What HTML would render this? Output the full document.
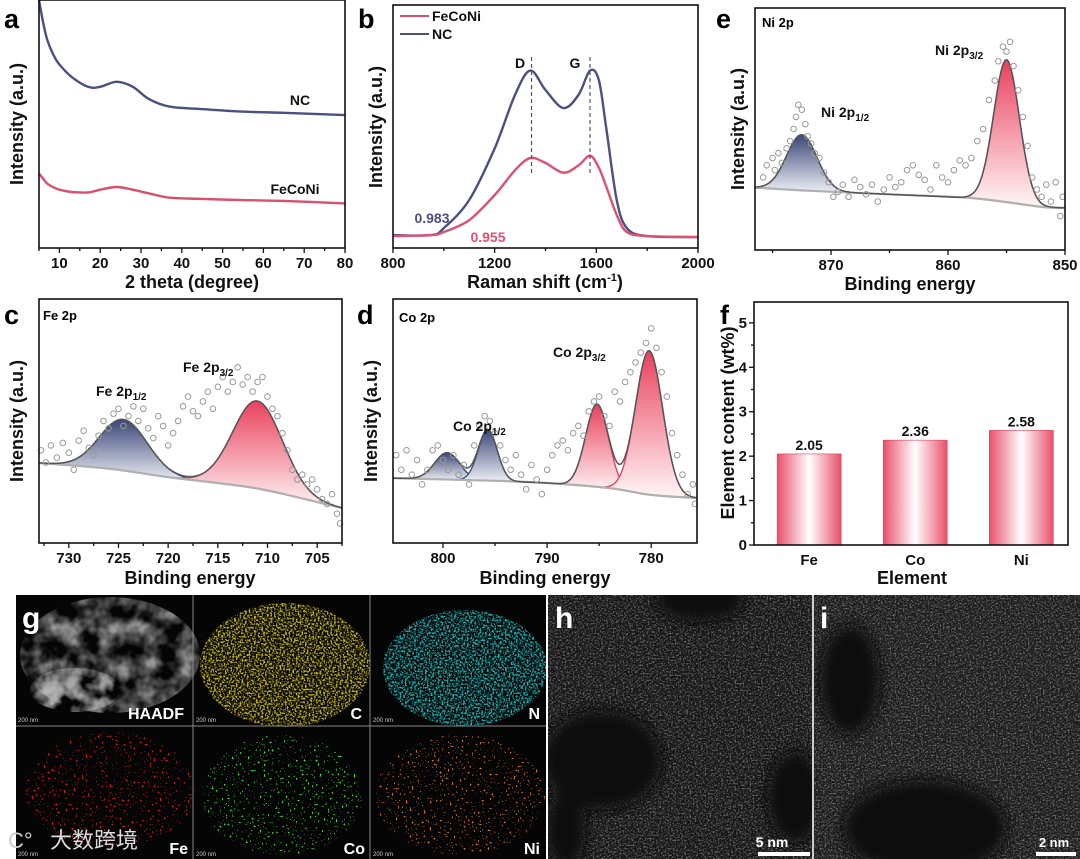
<!DOCTYPE html>
<html><head><meta charset="utf-8">
<style>
html,body{margin:0;padding:0;background:#fff;}
svg{display:block;font-family:"Liberation Sans",Arial,sans-serif;}
.tk{font-size:15px;font-weight:bold;fill:#111;}
.tt{font-size:18px;font-weight:bold;fill:#111;}
.pl{font-size:27px;font-weight:bold;fill:#000;}
.an{font-size:14px;font-weight:bold;fill:#111;}
</style></head>
<body>
<svg id="fig" width="1080" height="859" viewBox="0 0 1080 859" xmlns="http://www.w3.org/2000/svg">
<defs>
<linearGradient id="gBlue" x1="0" y1="0" x2="0" y2="1"><stop offset="0" stop-color="#3a4677"/><stop offset="1" stop-color="#eef0f5"/></linearGradient>
<linearGradient id="gPink" x1="0" y1="0" x2="0" y2="1"><stop offset="0" stop-color="#e9415c"/><stop offset="1" stop-color="#fff6f7"/></linearGradient>
<linearGradient id="gBar" x1="0" y1="0" x2="1" y2="0"><stop offset="0" stop-color="#e9506c"/><stop offset="0.5" stop-color="#ffffff"/><stop offset="1" stop-color="#e9506c"/></linearGradient>
<filter id="speck" x="0" y="0" width="100%" height="100%"><feTurbulence type="fractalNoise" baseFrequency="0.55" numOctaves="2" seed="3" result="n"/><feColorMatrix in="n" type="matrix" values="0 0 0 0 0 0 0 0 0 0 0 0 0 0 0 5 0 0 0 -2.3" result="m"/><feComposite in="SourceGraphic" in2="m" operator="in"/></filter>
<filter id="speckS" x="0" y="0" width="100%" height="100%"><feTurbulence type="fractalNoise" baseFrequency="0.5" numOctaves="1" seed="7" result="n"/><feColorMatrix in="n" type="matrix" values="0 0 0 0 0 0 0 0 0 0 0 0 0 0 0 16 0 0 0 -10.4" result="m"/><feComposite in="SourceGraphic" in2="m" operator="in"/></filter>
<filter id="tem" x="0" y="0" width="100%" height="100%"><feTurbulence type="fractalNoise" baseFrequency="0.6" numOctaves="3" seed="11"/><feColorMatrix type="matrix" values="0 0 0 0 0.55 0 0 0 0 0.55 0 0 0 0 0.55 1.6 0 0 0 -0.72"/></filter>
<filter id="haadf" x="0" y="0" width="100%" height="100%"><feTurbulence type="fractalNoise" baseFrequency="0.05" numOctaves="3" seed="5" result="n"/><feColorMatrix in="n" type="matrix" values="0 0 0 0 0 0 0 0 0 0 0 0 0 0 0 2.2 0 0 0 -0.75" result="m"/><feComposite in="SourceGraphic" in2="m" operator="in"/></filter>
<filter id="blur8" x="-50%" y="-50%" width="200%" height="200%"><feGaussianBlur stdDeviation="7"/></filter>
<clipPath id="clipH"><rect x="548" y="595" width="264" height="264"/></clipPath>
<clipPath id="clipI"><rect x="814" y="595" width="266" height="264"/></clipPath>
<clipPath id="clipG"><rect x="16" y="595" width="530" height="264"/></clipPath>
</defs>
<g id="plots"></g>

<text class="pl" x="4" y="28">a</text>
<text class="pl" x="358" y="28">b</text>
<text class="pl" x="716" y="28">e</text>
<text class="pl" x="4" y="324">c</text>
<text class="pl" x="357" y="324">d</text>
<text class="pl" x="720" y="324">f</text>

<text class="tt" x="192" y="288" text-anchor="middle">2 theta (degree)</text>
<text class="tt" x="545" y="288" text-anchor="middle">Raman shift (cm<tspan font-size="11" dy="-7">-1</tspan><tspan dy="7">)</tspan></text>
<text class="tt" x="910" y="290" text-anchor="middle">Binding energy</text>
<text class="tt" x="190" y="584" text-anchor="middle">Binding energy</text>
<text class="tt" x="545" y="584" text-anchor="middle">Binding energy</text>
<text class="tt" x="912" y="584" text-anchor="middle">Element</text>

<text class="tt" transform="translate(23,124) rotate(-90)" text-anchor="middle">Intensity (a.u.)</text>
<text class="tt" transform="translate(382,127) rotate(-90)" text-anchor="middle">Intensity (a.u.)</text>
<text class="tt" transform="translate(744,129) rotate(-90)" text-anchor="middle">Intensity (a.u.)</text>
<text class="tt" transform="translate(23,421) rotate(-90)" text-anchor="middle">Intensity (a.u.)</text>
<text class="tt" transform="translate(377,421) rotate(-90)" text-anchor="middle">Intensity (a.u.)</text>
<text class="tt" transform="translate(734,423) rotate(-90)" text-anchor="middle">Element content (wt%)</text>

<text class="an" x="300" y="105" text-anchor="middle">NC</text>
<text class="an" x="295" y="194" text-anchor="middle">FeCoNi</text>
<line x1="400" y1="16" x2="429" y2="16" stroke="#d94f6e" stroke-width="2"/>
<text class="an" x="432" y="21">FeCoNi</text>
<line x1="400" y1="34" x2="429" y2="34" stroke="#4a5080" stroke-width="2"/>
<text class="an" x="432" y="39">NC</text>
<text class="an" x="520" y="68" text-anchor="middle">D</text>
<text class="an" x="575" y="68" text-anchor="middle">G</text>
<text class="an" x="432" y="223" text-anchor="middle" style="fill:#4a5080">0.983</text>
<text class="an" x="488" y="242" text-anchor="middle" style="fill:#e0506f">0.955</text>

<text x="762" y="27" font-size="13" font-weight="bold">Ni 2p</text>
<text class="an" x="935" y="55">Ni 2p<tspan font-size="10" dy="4">3/2</tspan></text>
<text class="an" x="821" y="117">Ni 2p<tspan font-size="10" dy="4">1/2</tspan></text>
<text x="43" y="320" font-size="13" font-weight="bold">Fe 2p</text>
<text class="an" x="96" y="396">Fe 2p<tspan font-size="10" dy="4">1/2</tspan></text>
<text class="an" x="183" y="372">Fe 2p<tspan font-size="10" dy="4">3/2</tspan></text>
<text x="399" y="322" font-size="13" font-weight="bold">Co 2p</text>
<text class="an" x="453" y="431">Co 2p<tspan font-size="10" dy="4">1/2</tspan></text>
<text class="an" x="553" y="357">Co 2p<tspan font-size="10" dy="4">3/2</tspan></text>

<g id="micro">
<rect x="16" y="595" width="530" height="264" fill="#050505"/>
<g clip-path="url(#clipG)">
<g>
<ellipse cx="110" cy="655" rx="90" ry="58" fill="#9a9a9a" filter="url(#haadf)"/>
<ellipse cx="75" cy="690" rx="45" ry="22" fill="#b5b5b5" filter="url(#haadf)"/>
</g>
<g>
<ellipse cx="285" cy="665" rx="85" ry="62" fill="#c9b81a" filter="url(#speck)"/>
</g>
<g>
<ellipse cx="465" cy="668" rx="82" ry="58" fill="#1fb5b8" filter="url(#speck)"/>
</g>
<g>
<ellipse cx="110" cy="790" rx="85" ry="58" fill="#d82020" filter="url(#speckS)"/>
</g>
<g>
<ellipse cx="282" cy="795" rx="80" ry="60" fill="#40e040" filter="url(#speckS)"/>
</g>
<g>
<ellipse cx="460" cy="795" rx="85" ry="60" fill="#d8782a" filter="url(#speckS)"/>
</g>
</g>
<line x1="193" y1="595" x2="193" y2="859" stroke="#888" stroke-width="1"/>
<line x1="370" y1="595" x2="370" y2="859" stroke="#888" stroke-width="1"/>
<line x1="16" y1="726" x2="546" y2="726" stroke="#888" stroke-width="1"/>
<text x="22" y="628" font-size="30" font-weight="bold" fill="#fff">g</text>
<text x="184" y="719" font-size="16" font-weight="bold" fill="#fff" text-anchor="end">HAADF</text>
<text x="362" y="719" font-size="16" font-weight="bold" fill="#fff" text-anchor="end">C</text>
<text x="540" y="719" font-size="16" font-weight="bold" fill="#fff" text-anchor="end">N</text>
<text x="188" y="854" font-size="16" font-weight="bold" fill="#fff" text-anchor="end">Fe</text>
<text x="365" y="854" font-size="16" font-weight="bold" fill="#fff" text-anchor="end">Co</text>
<text x="540" y="854" font-size="16" font-weight="bold" fill="#fff" text-anchor="end">Ni</text>
<text x="18" y="722" font-size="6" fill="#ccc">200 nm</text><text x="196" y="722" font-size="6" fill="#ccc">200 nm</text><text x="373" y="722" font-size="6" fill="#ccc">200 nm</text>
<text x="18" y="856" font-size="6" fill="#ccc">200 nm</text><text x="196" y="856" font-size="6" fill="#ccc">200 nm</text><text x="373" y="856" font-size="6" fill="#ccc">200 nm</text>
<text x="50" y="848" font-size="22" fill="#ddd" font-family="'Liberation Sans','Noto Sans CJK SC',sans-serif">大数跨境</text>
<text x="8" y="848" font-size="22" fill="#ccc">C°</text>
</g>
<g clip-path="url(#clipH)">
<rect x="548" y="595" width="264" height="264" fill="#141414"/>
<rect x="548" y="595" width="264" height="264" filter="url(#tem)"/>
<g filter="url(#blur8)" fill="#0a0a0a">
<ellipse cx="602" cy="760" rx="60" ry="50"/><ellipse cx="566" cy="830" rx="20" ry="40"/>
<ellipse cx="700" cy="600" rx="45" ry="22"/><ellipse cx="795" cy="797" rx="28" ry="46"/>
</g>
</g>
<text x="555" y="628" font-size="30" font-weight="bold" fill="#fff">h</text>
<text x="772" y="847" font-size="14" font-weight="bold" fill="#fff" text-anchor="middle">5 nm</text>
<rect x="758" y="852" width="52" height="4" fill="#fff"/>
<rect x="812" y="595" width="2" height="264" fill="#ccc"/>
<g clip-path="url(#clipI)">
<rect x="814" y="595" width="266" height="264" fill="#1a1a1a"/>
<rect x="814" y="595" width="266" height="264" filter="url(#tem)"/>
<g filter="url(#blur8)" fill="#111">
<ellipse cx="925" cy="828" rx="82" ry="48"/><ellipse cx="850" cy="680" rx="30" ry="55"/>
</g>
</g>
<text x="820" y="628" font-size="30" font-weight="bold" fill="#fff">i</text>
<text x="1054" y="847" font-size="13" font-weight="bold" fill="#fff" text-anchor="middle">2 nm</text>
<rect x="1036" y="852" width="40" height="4" fill="#fff"/>
</svg>

<script>
// ---------- data ----------
const xrdX = [5, 6, 7, 8.5, 10, 13, 17, 20, 24, 28, 32, 37, 45, 55, 65, 80];
const xrdNC = [100, 91, 84, 78, 74, 69, 65, 65, 67, 65, 60, 57, 56, 55, 54.5, 53.6];
const xrdFe = [30, 28, 26, 24.5, 23.5, 22.6, 22.4, 23.5, 24.6, 23.5, 22, 20.3, 19.8, 19.3, 19, 18];
const xrdTicks = [10, 20, 30, 40, 50, 60, 70, 80];
const ramX = [800, 950, 1000, 1100, 1200, 1280, 1340, 1400, 1470, 1530, 1575, 1610, 1640, 1680, 1720, 1800, 2000];
const ramNC = [5.3, 5.3, 8.2, 19.8, 41, 63, 73, 65, 57.6, 63, 73, 69, 48.6, 19.8, 8.2, 4.9, 4.5];
const ramFe = [4.9, 5.3, 6.6, 11.5, 21.8, 32, 37, 35, 31, 34, 38, 33, 25, 13.6, 6.6, 4.9, 4.5];
const ramBands = [1345, 1575];
const ramTicks = [800, 1200, 1600, 2000];
const niBaseX = [876.5, 872, 865, 858, 852, 850];
const niBaseY = [25.8, 24.5, 23, 21.5, 17.8, 17.4];
const niPeakC = [872.5, 855];
const niPeakA = [23, 59];
const niPeakW = [1.3, 1.1];
const niPeakCol = ['blue', 'pink'];
const niPts = [[875.8,30],[875.5,35],[875,38],[874.8,33],[874.5,40],[874.2,36],[873.8,42],[873.5,45],[873.2,50],[873,55],[872.8,60],[872.5,58],[872.2,52],[872,47],[871.7,44],[871.4,40],[871,38],[870.6,32],[870.2,28],[869.8,22],[869.4,24],[869,27],[868.5,22],[868,29],[867.5,26],[867,23],[866.5,27],[866,20],[865.5,25],[865,30],[864.5,26],[864,28],[863.5,33],[863,35],[862.5,31],[862,29],[861.5,25],[861,35],[860.5,30],[860,28],[859.5,33],[859,37],[858.5,35],[858,38],[857.5,45],[857,50],[856.5,62],[856,70],[855.7,78],[855.3,84],[855,82],[854.7,86],[854.4,76],[854,66],[853.6,55],[853.2,43],[852.8,30],[852.4,25],[852,22],[851.6,27],[851.2,20],[850.8,28],[850.4,14],[850.2,22]];
const niTicks = [870, 860, 850];
const feBaseX = [733, 726, 720, 712, 708, 702.5];
const feBaseY = [32.8, 30.5, 27, 23, 19.7, 14.3];
const fePeakC = [724.5, 711];
const fePeakA = [21, 36];
const fePeakW = [2.4, 2.5];
const fePeakCol = ['blue', 'pink'];
const fePts = [[732.8,38],[732.3,33],[731.8,40],[731.2,35],[730.6,41],[730,37],[729.5,30],[729,42],[728.5,46],[728,39],[727.5,36],[727,44],[726.5,50],[726,47],[725.5,53],[725,55],[724.5,48],[724,52],[723.5,56],[723,50],[722.5,55],[722,47],[721.5,43],[721,52],[720.5,48],[720,40],[719.5,45],[719,50],[718.5,56],[718,60],[717.5,54],[717,52],[716.5,58],[716,62],[715.5,55],[715,64],[714.5,68],[714,62],[713.5,66],[713,72],[712.5,65],[712,68],[711.5,62],[711,66],[710.5,68],[710,60],[709.5,55],[709,52],[708.5,45],[708,38],[707.5,30],[707,26],[706.5,28],[706,24],[705.5,26],[705,22],[704.5,18],[704,16],[703.5,20],[703,12],[702.7,8]];
const feTicks = [730, 725, 720, 715, 710, 705];
const coBaseX = [804.8, 795, 790, 784, 780, 775.6];
const coBaseY = [26.6, 25.5, 24.6, 22.5, 19.7, 18.4];
const coPeakC = [799.6, 795.7, 785.2, 780.2];
const coPeakA = [11, 21, 34, 59];
const coPeakW = [1.2, 0.9, 1.1, 1.3];
const coPeakCol = ['blue', 'blue', 'pink', 'pink'];
const coPts = [[804.5,36],[804,30],[803.5,38],[803,28],[802.5,34],[802,24],[801.5,30],[801,38],[800.5,40],[800,34],[799.5,30],[799,36],[798.5,28],[798,32],[797.5,24],[797,40],[796.5,48],[796,52],[795.5,50],[795,45],[794.5,40],[794,34],[793.5,30],[793,36],[792.5,28],[792,22],[791.5,32],[791,26],[790.5,20],[790,30],[789.5,36],[789,40],[788.5,42],[788,38],[787.5,45],[787,48],[786.5,44],[786,54],[785.5,58],[785,60],[784.5,52],[784,48],[783.5,62],[783,58],[782.5,66],[782,70],[781.5,74],[781,78],[780.5,82],[780,88],[779.5,80],[779,70],[778.5,60],[778,45],[777.5,36],[777,28],[776.5,20],[776,24],[775.8,16]];
const coTicks = [800, 790, 780];
const elemCats = ['Fe', 'Co', 'Ni'];
const elemVals = [2.05, 2.36, 2.58];
const elemLabels = ['2.05', '2.36', '2.58'];
const elemTicks = [0, 1, 2, 3, 4, 5];

// ---------- helpers ----------
const NS = 'http://www.w3.org/2000/svg';
const root = document.getElementById('plots');
function mk(tag, attrs, parent) {
  const el = document.createElementNS(NS, tag);
  for (const k in attrs) el.setAttribute(k, attrs[k]);
  (parent || root).appendChild(el);
  return el;
}
function panel(cfg) {
  cfg.sx = v => cfg.l + (v - cfg.x0) / (cfg.x1 - cfg.x0) * (cfg.r - cfg.l);
  cfg.sy = v => cfg.b - (v - (cfg.y0 || 0)) / ((cfg.y1 || 100) - (cfg.y0 || 0)) * (cfg.b - cfg.t);
  return cfg;
}
function smoothPath(pts) {
  let d = 'M' + pts[0][0].toFixed(1) + ',' + pts[0][1].toFixed(1);
  for (let i = 0; i < pts.length - 1; i++) {
    const p0 = pts[Math.max(0, i - 1)], p1 = pts[i], p2 = pts[i + 1], p3 = pts[Math.min(pts.length - 1, i + 2)];
    const c1x = p1[0] + (p2[0] - p0[0]) / 6, c1y = p1[1] + (p2[1] - p0[1]) / 6;
    const c2x = p2[0] - (p3[0] - p1[0]) / 6, c2y = p2[1] - (p3[1] - p1[1]) / 6;
    d += 'C' + c1x.toFixed(1) + ',' + c1y.toFixed(1) + ' ' + c2x.toFixed(1) + ',' + c2y.toFixed(1) + ' ' + p2[0].toFixed(1) + ',' + p2[1].toFixed(1);
  }
  return d;
}
function frame(P, name) {
  const el = mk('rect', {x: P.l, y: P.t, width: P.r - P.l, height: P.b - P.t, fill: 'none', stroke: '#111', 'stroke-width': 1.6});
  
  
}
function xTicks(P, ticks, minorStep, name) {
  const lo = Math.min(P.x0, P.x1), hi = Math.max(P.x0, P.x1);
  const start = Math.ceil(lo / minorStep) * minorStep;
  for (let v = start; v <= hi + 1e-9; v += minorStep) {
    const major = ticks.some(t => Math.abs(t - v) < 1e-6);
    mk('line', {x1: P.sx(v), x2: P.sx(v), y1: P.b, y2: P.b + (major ? 5 : 3), stroke: '#111', 'stroke-width': 1.3});
  }
  ticks.forEach(t => {
    const el = mk('text', {x: P.sx(t), y: P.b + 20, class: 'tk', 'text-anchor': 'middle'});
    el.textContent = t;
    
    
  });
}
function xyToPx(P, xs, ys) { return xs.map((x, i) => [P.sx(x), P.sy(ys[i])]); }
function lineSeries(P, xs, ys, color, name) {
  const el = mk('path', {d: smoothPath(xyToPx(P, xs, ys)), fill: 'none', stroke: color, 'stroke-width': 2.4, 'stroke-linejoin': 'round'});
  
  
}
function baselineAt(bx, by, x) {
  for (let i = 0; i < bx.length - 1; i++) {
    const a = bx[i], b = bx[i + 1];
    if ((x - a) * (x - b) <= 0) { const t = (x - a) / (b - a); return by[i] + t * (by[i + 1] - by[i]); }
  }
  return by[by.length - 1];
}
function xps(P, bx, by, pc, pa, pw, pcol, pts, name) {
  const N = 160;
  const xsS = [];
  for (let i = 0; i <= N; i++) xsS.push(P.x0 + (P.x1 - P.x0) * i / N);
  const g = x => pc.reduce((s, c, k) => s + pa[k] * Math.exp(-0.5 * Math.pow((x - c) / pw[k], 2)), 0);
  pc.forEach((c, k) => {
    const lo = c - 3.5 * pw[k], hi = c + 3.5 * pw[k];
    let top = [], bot = [];
    for (let i = 0; i <= 60; i++) {
      const x = lo + (hi - lo) * i / 60;
      if ((x - P.x0) * (x - P.x1) > 0) continue;
      const b = baselineAt(bx, by, x);
      top.push([P.sx(x), P.sy(b + pa[k] * Math.exp(-0.5 * Math.pow((x - c) / pw[k], 2)))]);
      bot.push([P.sx(x), P.sy(b)]);
    }
    const d = 'M' + top.map(p => p[0].toFixed(1) + ',' + p[1].toFixed(1)).join('L') + 'L' + bot.reverse().map(p => p[0].toFixed(1) + ',' + p[1].toFixed(1)).join('L') + 'Z';
    const el = mk('path', {d: d, fill: pcol[k] === 'blue' ? 'url(#gBlue)' : 'url(#gPink)', stroke: pcol[k] === 'blue' ? '#3a4677' : '#d9405a', 'stroke-width': 1.3});
    
    
  });
  const bl = mk('path', {d: smoothPath(xyToPx(P, bx, by)), fill: 'none', stroke: '#b0b0b0', 'stroke-width': 2.2});
  
  
  const env = xsS.map(x => [P.sx(x), P.sy(baselineAt(bx, by, x) + g(x))]);
  const ev = mk('path', {d: 'M' + env.map(p => p[0].toFixed(1) + ',' + p[1].toFixed(1)).join('L'), fill: 'none', stroke: '#555', 'stroke-width': 1.5});
  
  
  pts.forEach(p => {
    const el = mk('circle', {cx: P.sx(p[0]), cy: P.sy(p[1]), r: 2.8, fill: 'none', stroke: '#999', 'stroke-width': 1});
    
    
  });
}

const A = panel({l: 39, r: 345, t: 0, b: 248, x0: 5, x1: 80});
lineSeries(A, xrdX, xrdNC, '#4a5080', 'xrd-line-nc');
lineSeries(A, xrdX, xrdFe, '#d94f6e', 'xrd-line-feconi');
frame(A, 'plot-frame-a');
xTicks(A, xrdTicks, 5, 'xrd-x');

const B = panel({l: 393, r: 698, t: 5, b: 248, x0: 800, x1: 2000});
lineSeries(B, ramX, ramNC, '#4a5080', 'raman-line-nc');
lineSeries(B, ramX, ramFe, '#e0506f', 'raman-line-feconi');
ramBands.forEach(v => {
  const el = mk('line', {x1: B.sx(v), x2: B.sx(v), y1: 57, y2: 173, stroke: '#555', 'stroke-width': 1.2, 'stroke-dasharray': '4,3'});
  
  
});
frame(B, 'plot-frame-b');
xTicks(B, ramTicks, 200, 'raman-x');

const E = panel({l: 755, r: 1065, t: 8, b: 250, x0: 876.5, x1: 850});
xps(E, niBaseX, niBaseY, niPeakC, niPeakA, niPeakW, niPeakCol, niPts, 'ni2p');
frame(E, 'plot-frame-e');
xTicks(E, niTicks, 5, 'ni2p-x');

const C = panel({l: 39, r: 342, t: 299, b: 543, x0: 733, x1: 702.5});
xps(C, feBaseX, feBaseY, fePeakC, fePeakA, fePeakW, fePeakCol, fePts, 'fe2p');
frame(C, 'plot-frame-c');
xTicks(C, feTicks, 2.5, 'fe2p-x');

const D = panel({l: 393, r: 697, t: 299, b: 543, x0: 804.8, x1: 775.6});
xps(D, coBaseX, coBaseY, coPeakC, coPeakA, coPeakW, coPeakCol, coPts, 'co2p');
frame(D, 'plot-frame-d');
xTicks(D, coTicks, 5, 'co2p-x');

const F = panel({l: 754, r: 1068, t: 302, b: 545, x0: -0.52, x1: 2.44, y0: 0, y1: 5.47});
const bw = 64;
elemVals.forEach((v, i) => {
  const cx = F.sx(i);
  const el = mk('rect', {x: cx - bw / 2, y: F.sy(v), width: bw, height: F.sy(0) - F.sy(v), fill: 'url(#gBar)', stroke: '#d9405a', 'stroke-width': 0.6});
  
  
  const t = mk('text', {x: cx, y: F.sy(v) - 4, class: 'an', 'text-anchor': 'middle', 'font-size': 15});
  t.textContent = elemLabels[i];
  
  
  const c = mk('text', {x: cx, y: F.b + 20, class: 'tk', 'text-anchor': 'middle'});
  c.textContent = elemCats[i];
  
  
});
frame(F, 'plot-frame-f');
for (let v = 0; v <= 5.01; v += 0.5) {
  const major = Math.abs(v - Math.round(v)) < 1e-6;
  mk('line', {x1: F.l, x2: F.l - (major ? 5 : 3), y1: F.sy(v), y2: F.sy(v), stroke: '#111', 'stroke-width': 1.3});
}
elemTicks.forEach(t => {
  const el = mk('text', {x: F.l - 7, y: F.sy(t) + 5, class: 'tk', 'text-anchor': 'end'});
  el.textContent = t;
  
  
});
</script>
</body></html>
